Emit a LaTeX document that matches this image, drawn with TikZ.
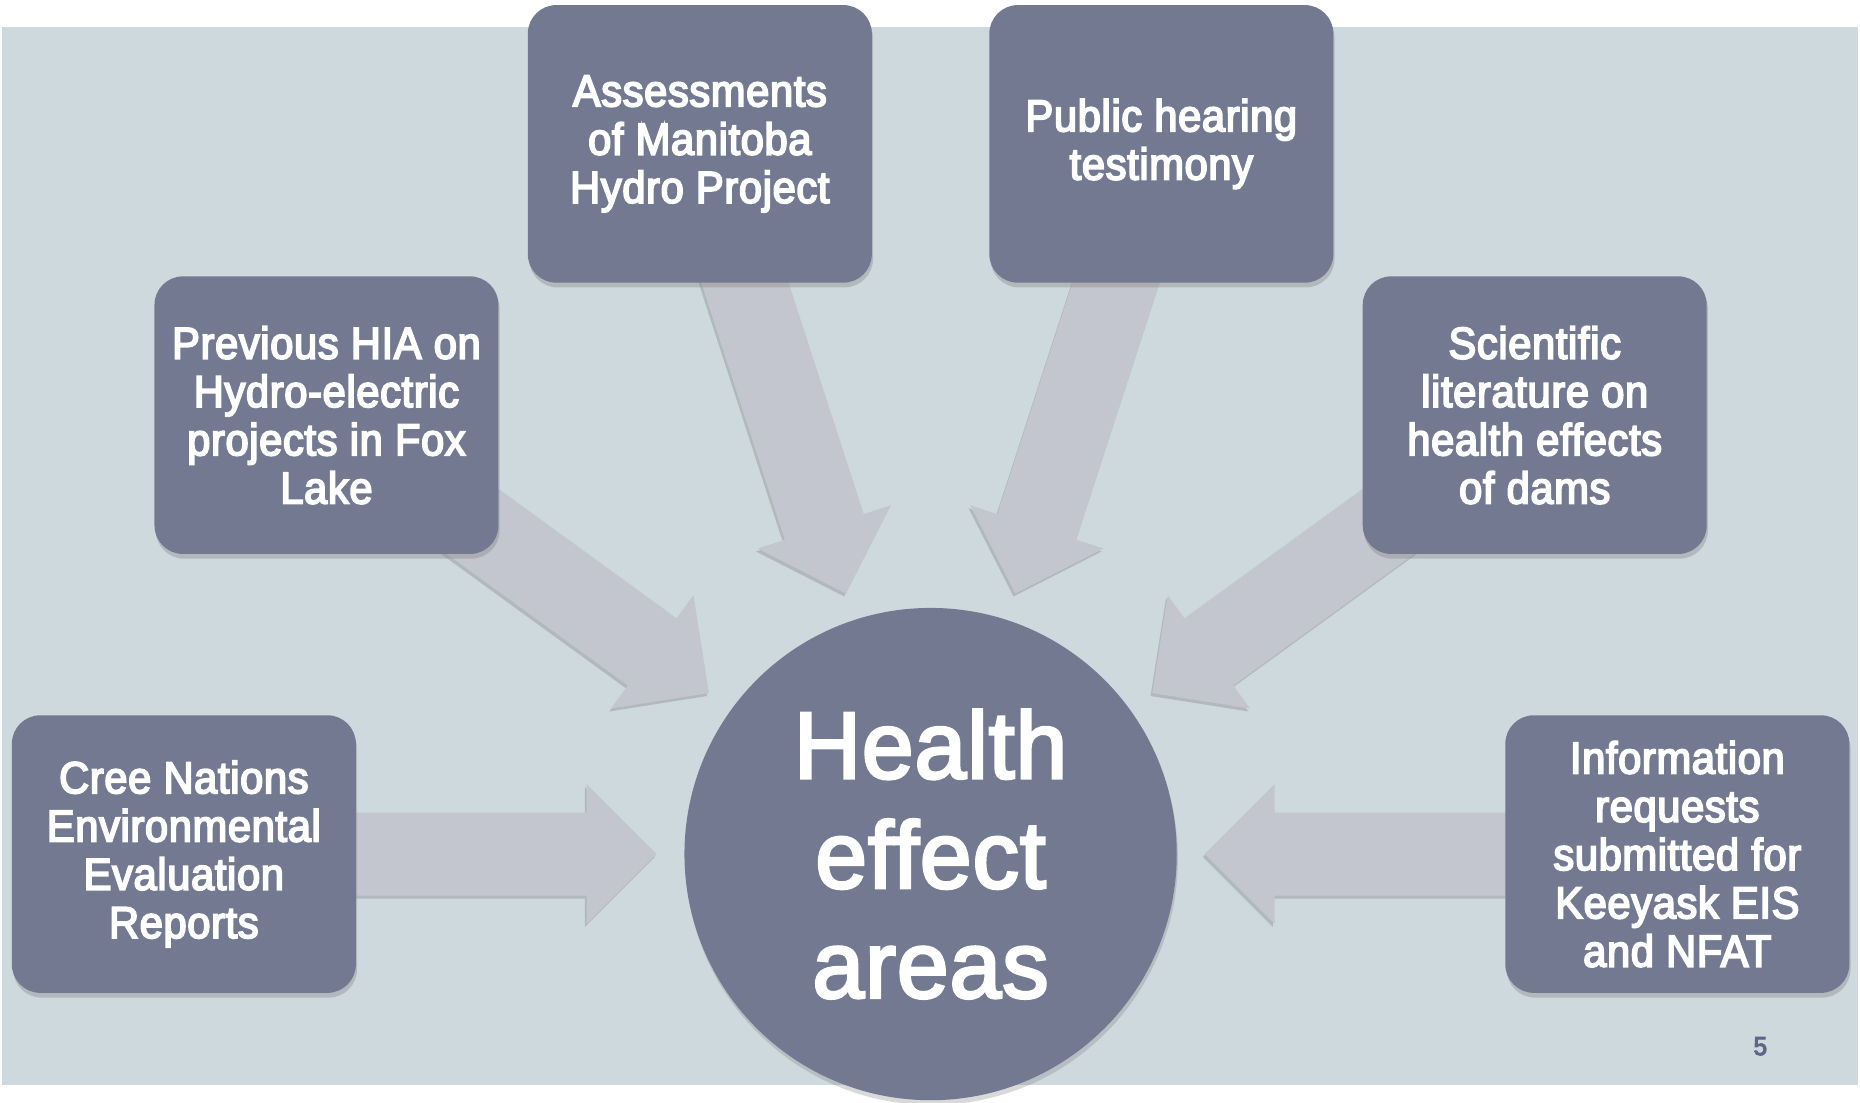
\documentclass[tikz,border=0pt]{standalone}
\usepackage{fontspec}
\setmainfont{Liberation Sans}
\newfontfamily\boxfont{Liberation Sans}[FakeStretch=0.93, FakeBold=4, LetterSpace=1.5]
\newfontfamily\hubfont{Liberation Sans}[FakeStretch=0.98, FakeBold=3, LetterSpace=1]
\usetikzlibrary{calc,shadows}

\definecolor{pagebg}{HTML}{CED9DE}
\definecolor{boxfill}{HTML}{727991}
\definecolor{arrowfill}{HTML}{C3C6CE}
\definecolor{pagenum}{HTML}{5C6686}

\pgfdeclarelayer{back}
\pgfdeclarelayer{mid}
\pgfsetlayers{back,mid,main}

\tikzset{
  srcbox/.style={fill=boxfill, rounded corners=24pt, minimum width=290pt,
    minimum height=234pt, inner sep=0pt, align=center, text=white,
    font=\boxfont\fontsize{37.7}{40.7}\selectfont,
    drop shadow={shadow xshift=1pt, shadow yshift=-4pt, opacity=0.35}},
  hubnode/.style={circle, fill=boxfill, minimum size=415pt, inner sep=0pt,
    align=center, text=white, font=\hubfont\fontsize{80}{92.5}\selectfont,
    drop shadow={shadow xshift=1pt, shadow yshift=-4pt, opacity=0.3}},
  blockarrow/.style={fill=arrowfill,
    drop shadow={shadow xshift=-1.5pt, shadow yshift=-2.5pt, opacity=0.35}}
}

% broad arrow from a source box towards the hub, stopping short of it
\newcommand\feedarrow[1]{%
  \fill[blockarrow] let \p1=($(#1.center)-(hub.center)$), \n1={atan2(\y1,\x1)} in
    ($(hub.center)+(\n1:600)+(\n1+90:35)$) --
    ($(hub.center)+(\n1:290)+(\n1+90:35)$) --
    ($(hub.center)+(\n1:290)+(\n1+90:59)$) --
    ($(hub.center)+(\n1:231)$) --
    ($(hub.center)+(\n1:290)+(\n1-90:59)$) --
    ($(hub.center)+(\n1:290)+(\n1-90:35)$) --
    ($(hub.center)+(\n1:600)+(\n1-90:35)$) -- cycle;}

\begin{document}
\begin{tikzpicture}[x=1pt,y=1pt]
  \useasboundingbox (0,0) rectangle (1568,929);
  \begin{pgfonlayer}{back}
    \fill[pagebg] (2,14.3) rectangle (1566,906);
  \end{pgfonlayer}

  \node[hubnode] (hub) at (784.5,209) {Health\\effect\\areas};

  \node[srcbox] (cree)  at ($(hub.center)+(180:629.5)$) {Cree Nations\\Environmental\\Evaluation\\Reports};
  \node[srcbox] (hia)   at ($(hub.center)+(144:629.5)$) {Previous HIA on\\Hydro-electric\\projects in Fox\\Lake};
  \node[srcbox] (assess) at ($(hub.center)+(108:629.5)$) {Assessments\\of Manitoba\\Hydro Project};
  \node[srcbox] (public) at ($(hub.center)+(72:629.5)$) {Public hearing\\testimony};
  \node[srcbox] (sci)   at ($(hub.center)+(36:629.5)$) {Scientific\\literature on\\health effects\\of dams};
  \node[srcbox] (info)  at ($(hub.center)+(0:629.5)$) {Information\\requests\\submitted for\\Keeyask EIS\\and NFAT};

  \begin{pgfonlayer}{mid}
    \foreach \src in {cree,hia,assess,public,sci,info} {\feedarrow{\src}}
  \end{pgfonlayer}

  \node[text=pagenum, font=\boxfont\fontsize{22}{24}\selectfont] (pg) at (1484,47) {5};
\end{tikzpicture}
\end{document}
